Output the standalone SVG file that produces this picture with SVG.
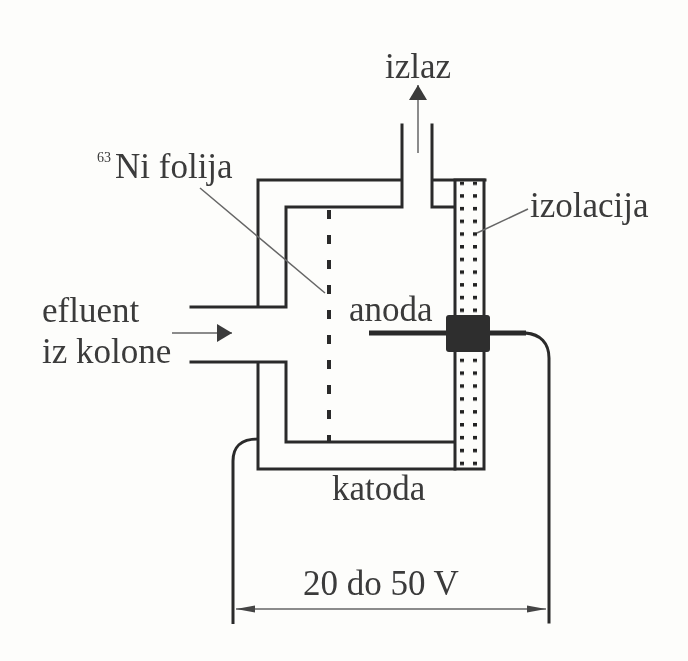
<svg xmlns="http://www.w3.org/2000/svg" width="688" height="661" viewBox="0 0 688 661">
<style>
text{font-family:"Liberation Serif","Times New Roman",serif;fill:#3a3a3a;font-size:35px}
.w{fill:none;stroke:#2b2b2b;stroke-width:3;stroke-linecap:square}
.t{fill:none;stroke:#666;stroke-width:1.500}
</style>
<defs>
<filter id="soft" x="0" y="0" width="100%" height="100%"><feGaussianBlur stdDeviation="0.45"/></filter>
<marker id="a" markerUnits="userSpaceOnUse" markerWidth="18" markerHeight="18" refX="15" refY="9" orient="auto"><path d="M0 0L15 9L0 18Z" fill="#3a3a3a"/></marker>
<marker id="b" markerUnits="userSpaceOnUse" markerWidth="20" markerHeight="10" refX="19" refY="5" orient="auto-start-reverse"><path d="M0 1.500L19 5L0 8.500Z" fill="#444"/></marker>
<pattern id="dots1" x="460" y="181.500" width="13" height="12.700" patternUnits="userSpaceOnUse"><rect width="4" height="3.500" fill="#222"/></pattern>
<pattern id="dots2" x="460" y="358.500" width="13" height="12.900" patternUnits="userSpaceOnUse"><rect width="4" height="3.500" fill="#222"/></pattern>
</defs>
<rect width="688" height="661" fill="#fdfdfb"/>
<g filter="url(#soft)">
<g id="detector-body">
<path class="w" d="M191 307H286V207H402V125M402 207V180H258V307"/>
<path class="w" d="M191 362H286V442H455M258 362V469H455"/>
<path class="w" d="M432 125V207H455M432 180H485"/>
</g>
<g id="ni-foil"><path d="M329 210V442" fill="none" stroke="#2b2b2b" stroke-width="4" stroke-dasharray="9 16"/></g>
<g id="insulation">
<rect x="455" y="180" width="29" height="289" fill="#fdfdfb" stroke="#2b2b2b" stroke-width="3"/>
<rect x="460" y="181.500" width="18" height="133" fill="url(#dots1)"/>
<rect x="460" y="358.500" width="18" height="108" fill="url(#dots2)"/>
</g>
<g id="anode">
<path d="M369 333H526" fill="none" stroke="#2b2b2b" stroke-width="5"/>
<rect x="446" y="315" width="44" height="37" rx="3" fill="#2e2e2e"/>
</g>
<g id="connectors">
<path class="w" d="M526 333C540 334 549 343 549 358V622"/>
<path class="w" d="M257 439C241 439 233 447 233 461V624"/>
<path d="M236 609H546" class="t" marker-start="url(#b)" marker-end="url(#b)"/>
<path d="M418 153V85" class="t" marker-end="url(#a)"/>
<path d="M172 333H232" class="t" marker-end="url(#a)"/>
<path d="M200 188L325 293" class="t"/>
<path d="M528 209L477 233" class="t"/>
</g>
<g id="labels">
<text x="385" y="78">izlaz</text>
<text x="97" y="162" style="font-size:14px">63</text>
<text x="115" y="178">Ni folija</text>
<text x="530" y="217">izolacija</text>
<text x="42" y="322">efluent</text>
<text x="42" y="363">iz kolone</text>
<text x="349" y="321">anoda</text>
<text x="332" y="500">katoda</text>
<text x="303" y="595">20 do 50 V</text>
</g>
</g>
</svg>
